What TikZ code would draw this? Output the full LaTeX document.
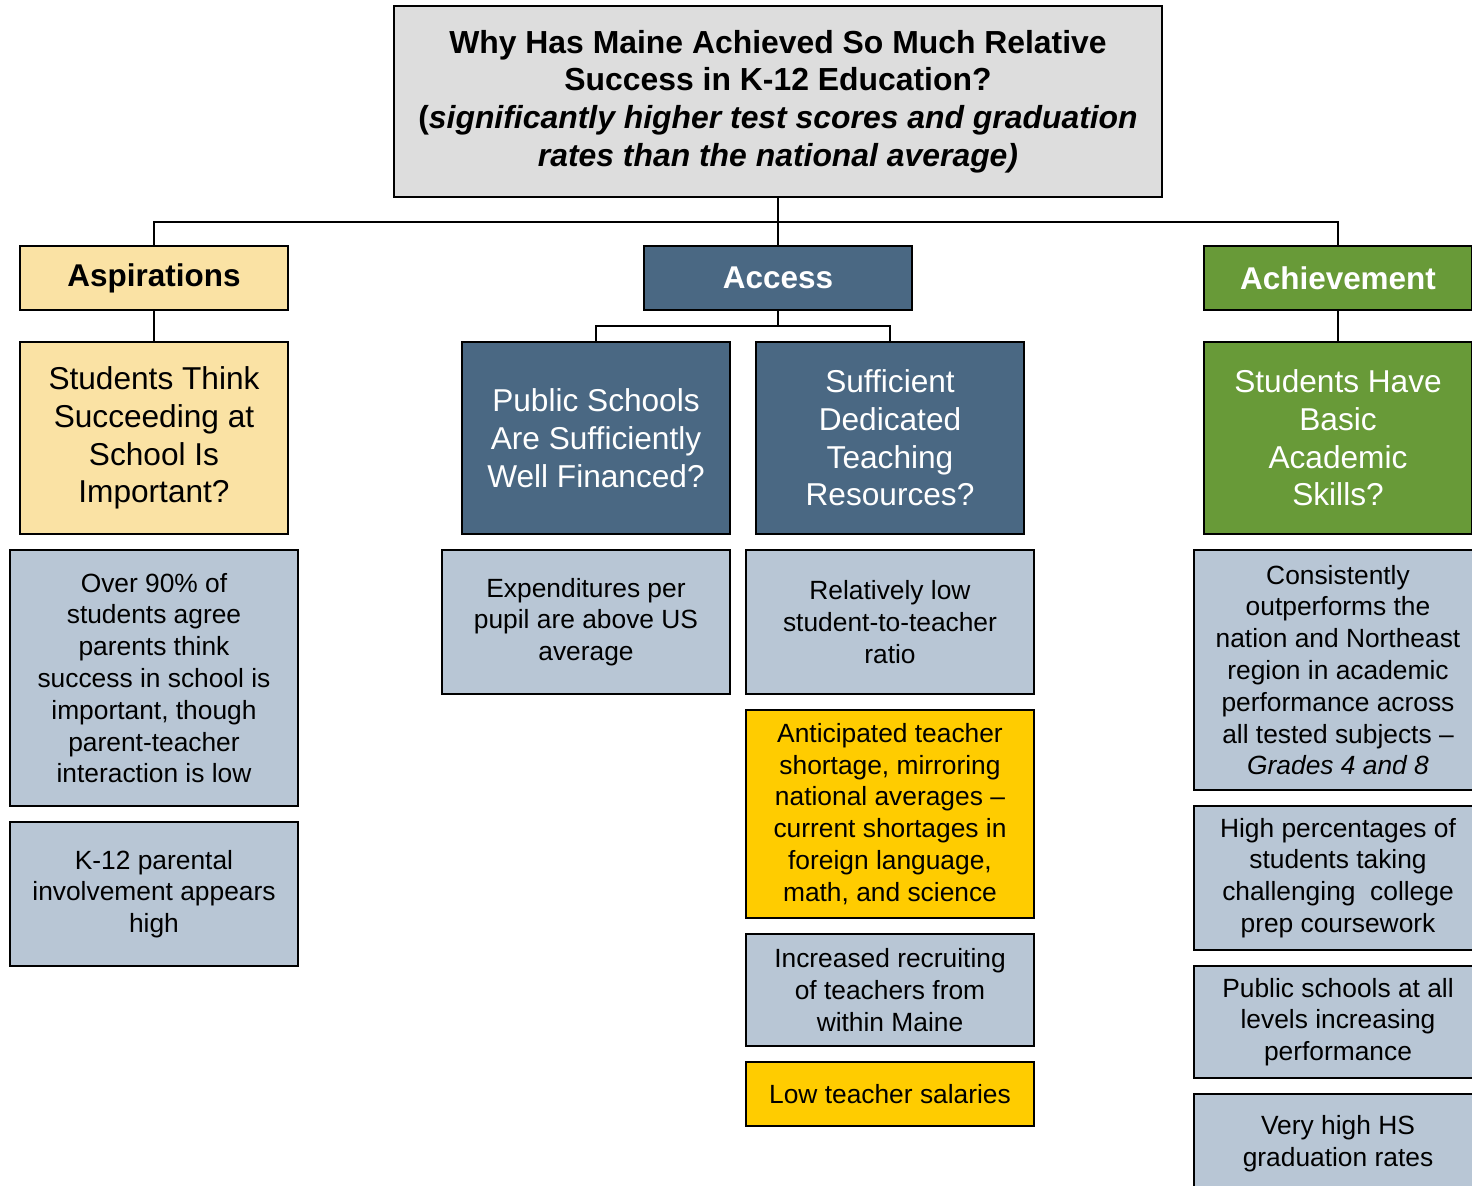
\documentclass[tikz,border=0pt]{standalone}
\usepackage{fontspec}
\setmainfont{Liberation Sans}
\definecolor{titlegray}{RGB}{221,221,221}
\definecolor{aspgold}{RGB}{250,226,164}
\definecolor{accblue}{RGB}{74,104,131}
\definecolor{achgreen}{RGB}{104,154,56}
\definecolor{factblue}{RGB}{184,198,213}
\definecolor{warngold}{RGB}{255,204,0}
\begin{document}
\begin{tikzpicture}[x=0.02cm,y=-0.02cm,
  box/.style={draw=black,line width=1.4pt,align=center,inner sep=0pt},
  hdr/.style={box,minimum width=5.36cm,minimum height=1.28cm,font=\fontsize{17.9}{21.5}\selectfont\bfseries},
  qbox/.style={box,minimum width=5.36cm,minimum height=3.84cm,font=\fontsize{18}{21.5}\selectfont},
  fact/.style={box,fill=factblue,minimum width=5.76cm,font=\fontsize{15}{18.1}\selectfont},
  warn/.style={fact,fill=warngold},
  line/.style={line width=1.2pt}]
\useasboundingbox (0,0) rectangle (1472,1186);
\clip (0,0) rectangle (1472,1186);
% question at the top
\node[box,fill=titlegray,minimum width=15.36cm,minimum height=3.82cm,
  font=\fontsize{18.15}{21.5}\selectfont\bfseries] (title) at (778,101.5)
  {Why Has Maine Achieved So Much Relative\\Success in K-12 Education?\\
   (\textit{significantly higher test scores and graduation}\\
   \textit{rates than the national average)}};
% three drivers
\node[hdr,fill=aspgold] (asp) at (154,278) {Aspirations};
\node[hdr,fill=accblue,text=white] (acc) at (778,278) {Access};
\node[hdr,fill=achgreen,text=white] (ach) at (1338,278) {Achievement};
% questions under each driver
\node[qbox,fill=aspgold] (aspq) at (154,438) {Students Think\\Succeeding at\\School Is\\Important?};
\node[qbox,fill=accblue,text=white] (finq) at (596,438) {Public Schools\\Are Sufficiently\\Well Financed?};
\node[qbox,fill=accblue,text=white] (teaq) at (890,438) {Sufficient\\Dedicated\\Teaching\\Resources?};
\node[qbox,fill=achgreen,text=white] (achq) at (1338,438) {Students Have\\Basic\\Academic\\Skills?};
% findings
\node[fact,minimum height=5.12cm] (f1) at (154,678) {Over 90\% of\\students agree\\parents think\\success in school is\\important, though\\parent-teacher\\interaction is low};
\node[fact,minimum height=2.88cm] (f2) at (154,894) {K-12 parental\\involvement appears\\high};
\node[fact,minimum height=2.88cm] (f3) at (586,622) {Expenditures per\\pupil are above US\\average};
\node[fact,minimum height=2.88cm] (f4) at (890,622) {Relatively low\\student-to-teacher\\ratio};
\node[warn,minimum height=4.16cm] (f5) at (890,814) {Anticipated teacher\\shortage, mirroring\\national averages --\\current shortages in\\foreign language,\\math, and science};
\node[fact,minimum height=2.24cm] (f6) at (890,990) {Increased recruiting\\of teachers from\\within Maine};
\node[warn,minimum height=1.28cm] (f7) at (890,1094) {Low teacher salaries};
\node[fact,minimum height=4.8cm] (f8) at (1338,670) {Consistently\\outperforms the\\nation and Northeast\\region in academic\\performance across\\all tested subjects --\\\textit{Grades 4 and 8}};
\node[fact,minimum height=2.88cm] (f9) at (1338,878) {High percentages of\\students taking\\challenging\ \ college\\prep coursework};
\node[fact,minimum height=2.24cm] (f10) at (1338,1022) {Public schools at all\\levels increasing\\performance};
\node[fact,minimum height=2cm] (f11) at (1338,1144) {Very high HS\\graduation rates};
% connectors
\coordinate (bus) at (778,222);
\coordinate (accbus) at (778,326);
\draw[line] (title.south) -- (acc.north);
\draw[line] (asp.north) |- (bus) -| (ach.north);
\draw[line] (acc.south) -- (accbus);
\draw[line] (finq.north) |- (accbus) -| (teaq.north);
\draw[line] (asp.south) -- (aspq.north);
\draw[line] (ach.south) -- (achq.north);
\end{tikzpicture}
\end{document}
